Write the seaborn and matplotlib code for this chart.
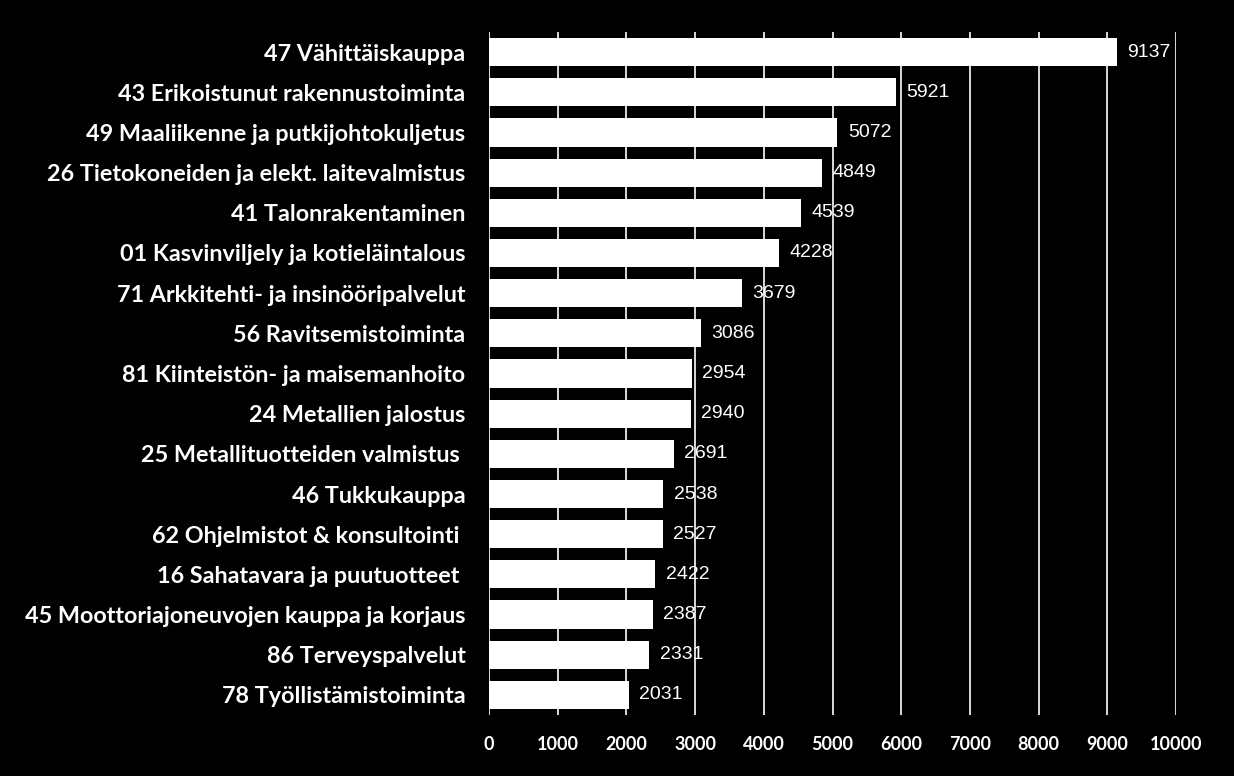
import matplotlib
matplotlib.use("Agg")
import matplotlib.pyplot as plt
import seaborn as sns
import pandas as pd

categories = [
    "47 Vähittäiskauppa",
    "43 Erikoistunut rakennustoiminta",
    "49 Maaliikenne ja putkijohtokuljetus",
    "26 Tietokoneiden ja elekt. laitevalmistus",
    "41 Talonrakentaminen",
    "01 Kasvinviljely ja kotieläintalous",
    "71 Arkkitehti- ja insinööripalvelut",
    "56 Ravitsemistoiminta",
    "81 Kiinteistön- ja maisemanhoito",
    "24 Metallien jalostus",
    "25 Metallituotteiden valmistus ",
    "46 Tukkukauppa",
    "62 Ohjelmistot & konsultointi ",
    "16 Sahatavara ja puutuotteet ",
    "45 Moottoriajoneuvojen kauppa ja korjaus",
    "86 Terveyspalvelut",
    "78 Työllistämistoiminta",
]
values = [9137, 5921, 5072, 4849, 4539, 4228, 3679, 3086, 2954, 2940,
          2691, 2538, 2527, 2422, 2387, 2331, 2031]
xticks = [0, 1000, 2000, 3000, 4000, 5000, 6000, 7000, 8000, 9000, 10000]

df = pd.DataFrame({"cat": categories, "val": values})

sns.set_theme(style="dark")
plt.rcParams["font.family"] = ["Lato", "DejaVu Sans"]

fig = plt.figure(figsize=(12.34, 7.76), dpi=100, facecolor="black")
ax = fig.add_axes([489 / 1234, 1 - 715 / 776, (1176 - 489) / 1234, (715 - 32) / 776])
ax.set_facecolor("black")

sns.barplot(data=df, y="cat", x="val", orient="h", color="white",
            saturation=1, width=0.7, edgecolor="none", ax=ax, zorder=3)

ax.set_xlim(0, 10000)
ax.set_ylim(len(categories) - 0.5, -0.5)
ax.set_xticks(xticks)
ax.set_xticklabels([str(t) for t in xticks], fontsize=13, fontweight="bold", color="white")
ax.tick_params(axis="x", length=0, pad=15)
ax.tick_params(axis="y", length=0, pad=17)
for lbl in ax.get_yticklabels():
    lbl.set_fontsize(16.8)
    lbl.set_fontweight("bold")
    lbl.set_color("white")
ax.grid(axis="x", color="white", linewidth=1.2, zorder=0)
ax.grid(axis="y", visible=False)
ax.set_axisbelow(True)
for s in ax.spines.values():
    s.set_visible(False)
ax.set_xlabel("")
ax.set_ylabel("")

for i, v in enumerate(values):
    ax.annotate(str(v), (v, i), xytext=(7.5, 0), textcoords="offset points",
                va="center", ha="left", color="white", fontsize=14,
                family="Liberation Sans")

fig.savefig("out.png", dpi=100, facecolor="black")
